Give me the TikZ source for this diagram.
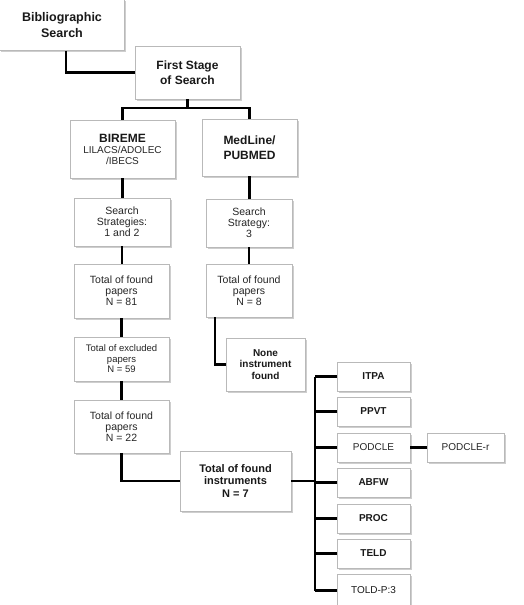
\documentclass[tikz,border=0pt]{standalone}
\usepackage{fontspec}
\setmainfont{Liberation Sans}
\usetikzlibrary{shadows}
\begin{document}
\begin{tikzpicture}[x=1pt,y=-1pt,
  box/.style={draw=gray!55, fill=white, line width=0.6pt,
    drop shadow={shadow xshift=1.6pt, shadow yshift=-1.6pt, opacity=0.55, fill=gray!70},
    align=center, inner sep=1pt, text=black!85},
  inst/.style={box, minimum width=73pt, minimum height=29pt},
  big/.style={font=\fontsize{12}{14.5}\selectfont\bfseries, text=black!90},
  mid/.style={font=\fontsize{10.5}{11}\selectfont},
  small/.style={font=\fontsize{9.5}{10.5}\selectfont},
  bsmall/.style={font=\fontsize{10}{11.5}\selectfont\bfseries, text=black!90},
  link/.style={line width=2.6pt, black}]
\useasboundingbox (0,0) rectangle (524,605);
\fill[white] (0,0) rectangle (524,605);

\node[box, big, minimum width=125pt, minimum height=51pt, font=\fontsize{12.5}{16}\selectfont\bfseries] (bib) at (62,25) {Bibliographic\\Search};
\node[box, big, minimum width=105pt, minimum height=53pt] (first) at (187.5,72.5) {First Stage\\of Search};
\node[box, minimum width=105pt, minimum height=58pt] (bireme) at (122.5,149)
  {{\fontsize{12}{13}\selectfont\bfseries\color{black!90}BIREME}\\[-1pt]{\fontsize{10}{11}\selectfont LILACS/ADOLEC}\\[-1pt]{\fontsize{10}{11}\selectfont /IBECS}};
\node[box, big, minimum width=95pt, minimum height=57pt] (medline) at (249.5,147.5) {MedLine/\\PUBMED};
\node[box, mid, minimum width=96pt, minimum height=48pt] (strat1) at (122,222) {Search\\Strategies:\\1 and 2};
\node[box, mid, minimum width=86pt, minimum height=48pt] (strat2) at (249,223) {Search\\Strategy:\\3};
\node[box, mid, minimum width=95pt, minimum height=54pt] (found81) at (121.5,291) {Total of found\\papers\\N = 81};
\node[box, mid, minimum width=86pt, minimum height=53pt] (found8) at (249,290.5) {Total of found\\papers\\N = 8};
\node[box, small, minimum width=95pt, minimum height=44pt] (excl) at (121.5,359) {Total of excluded\\papers\\N = 59};
\node[box, mid, minimum width=95pt, minimum height=53pt] (found22) at (121.5,426.5) {Total of found\\papers\\N = 22};
\node[box, bsmall, minimum width=79pt, minimum height=53pt] (none) at (265.5,364.5) {None\\instrument\\found};
\node[box, font=\fontsize{11}{12.5}\selectfont\bfseries, text=black!90, minimum width=111pt, minimum height=60pt] (instr) at (235.5,481) {Total of found\\instruments\\N = 7};

\node[inst, bsmall] (itpa) at (373.5,376.5) {ITPA};
\node[inst, bsmall] (ppvt) at (373.5,411.5) {PPVT};
\node[inst, font=\fontsize{10}{11}\selectfont] (podcle) at (373.5,447.5) {PODCLE};
\node[inst, bsmall] (abfw) at (373.5,482.5) {ABFW};
\node[inst, bsmall] (proc) at (373.5,518.5) {PROC};
\node[inst, bsmall] (teld) at (373.5,553.5) {TELD};
\node[box, font=\fontsize{10}{11}\selectfont, minimum width=73pt, minimum height=33pt, text=black!90] (told) at (373.5,590.5) {TOLD-P:3};
\node[box, font=\fontsize{10}{11}\selectfont, minimum width=77pt, minimum height=29pt] (podcler) at (465.5,447.5) {PODCLE-r};

\coordinate (j1) at (188,108);
\coordinate (bus) at (315,0);

\draw[link] ([xshift=4pt]bib.south) |- (first.west);
\draw[link] (first.south) -- (first.south |- j1);
\draw[link] (bireme.north) |- (medline.north |- j1) -- (medline.north);
\draw[link] (bireme.south) -- (bireme.south |- strat1.north);
\draw[link] (strat1.south) -- (strat1.south |- found81.north);
\draw[link] (found81.south) -- (found81.south |- excl.north);
\draw[link] (excl.south) -- (excl.south |- found22.north);
\draw[link] (found22.south) |- (instr.west);
\draw[link] (medline.south) -- (medline.south |- strat2.north);
\draw[link] (strat2.south) -- (strat2.south |- found8.north);
\draw[link] ([xshift=-34pt]found8.south) |- (none.west);
\draw[link] (instr.east) -- (instr.east -| bus);
\draw[link] (itpa.west -| bus) -- (told.west -| bus);
\foreach \n in {itpa,ppvt,podcle,abfw,proc,teld,told}
  \draw[link] (\n.west -| bus) -- (\n.west);
\draw[link] (podcle.east) -- (podcler.west);
\end{tikzpicture}
\end{document}
